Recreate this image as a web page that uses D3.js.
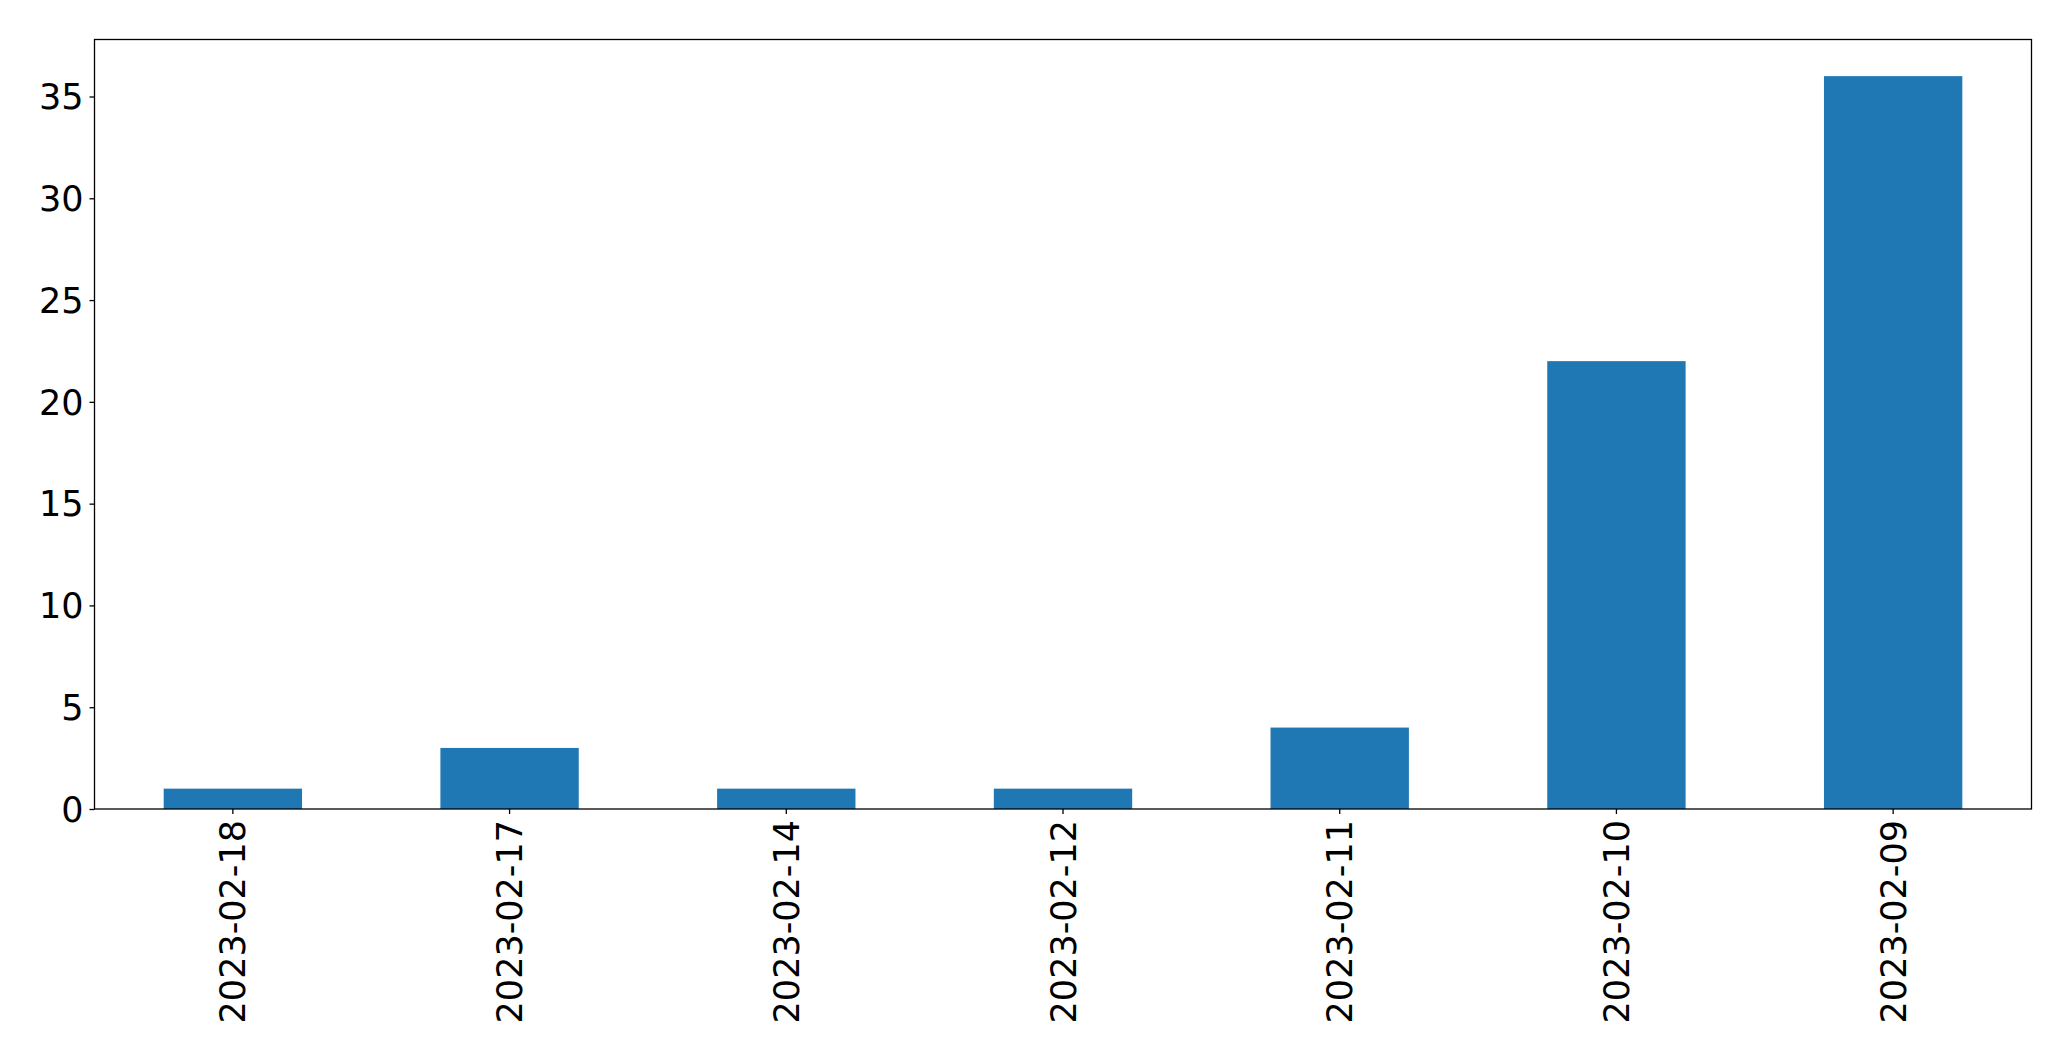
<!DOCTYPE html>
<html>
<head>
<meta charset="utf-8">
<script src="https://cdn.jsdelivr.net/npm/d3@7"></script>
<style>
  html, body { margin: 0; padding: 0; background: #fff; }
  svg { display: block; }
  text { font-family: "DejaVu Sans", sans-serif; fill: #000; }
</style>
</head>
<body>
<svg id="chart" width="2071" height="1061"></svg>
<script>
const categories = ["2023-02-18", "2023-02-17", "2023-02-14", "2023-02-12", "2023-02-11", "2023-02-10", "2023-02-09"];
const values = [1, 3, 1, 1, 4, 22, 36];
const yTicks = [0, 5, 10, 15, 20, 25, 30, 35];

const W = 2071, H = 1061;
const margin = { left: 94.5, right: W - 2031.5, top: 39.5, bottom: H - 809 };
const svg = d3.select("#chart");
const iw = W - margin.left - margin.right;
const ih = H - margin.top - margin.bottom;

const g = svg.append("g").attr("transform", `translate(${margin.left},${margin.top})`);

const x = d3.scaleBand().domain(categories).range([0, iw]).paddingInner(0.5).paddingOuter(0.25);
const y = d3.scaleLinear().domain([0, d3.max(values) * 1.05]).range([ih, 0]);

g.selectAll("rect.bar").data(values).enter().append("rect")
  .attr("class", "bar")
  .attr("x", (d, i) => x(categories[i]))
  .attr("width", x.bandwidth())
  .attr("y", d => y(d))
  .attr("height", d => ih - y(d))
  .attr("fill", "#1f77b4");

const fs = 35;

const yAxis = g.append("g").call(d3.axisLeft(y).tickValues(yTicks).tickSize(5).tickPadding(6).tickFormat(d3.format("d")));
yAxis.select(".domain").remove();
yAxis.selectAll("line").attr("stroke", "#000").attr("stroke-width", 1.3);
yAxis.selectAll("text").style("font-size", fs + "px").attr("dy", "0.35em");

const xAxis = g.append("g").attr("transform", `translate(0,${ih})`)
  .call(d3.axisBottom(x).tickSize(5).tickPadding(6));
xAxis.select(".domain").remove();
xAxis.selectAll("line").attr("stroke", "#000").attr("stroke-width", 1.3);
xAxis.selectAll("text")
  .style("font-size", fs + "px")
  .attr("text-anchor", "end")
  .attr("transform", "rotate(-90)")
  .attr("x", -11)
  .attr("y", 0)
  .attr("dy", "0.36em");

g.append("rect").attr("x", 0).attr("y", 0).attr("width", iw).attr("height", ih)
  .attr("fill", "none").attr("stroke", "#000").attr("stroke-width", 1.3);
</script>
</body>
</html>
